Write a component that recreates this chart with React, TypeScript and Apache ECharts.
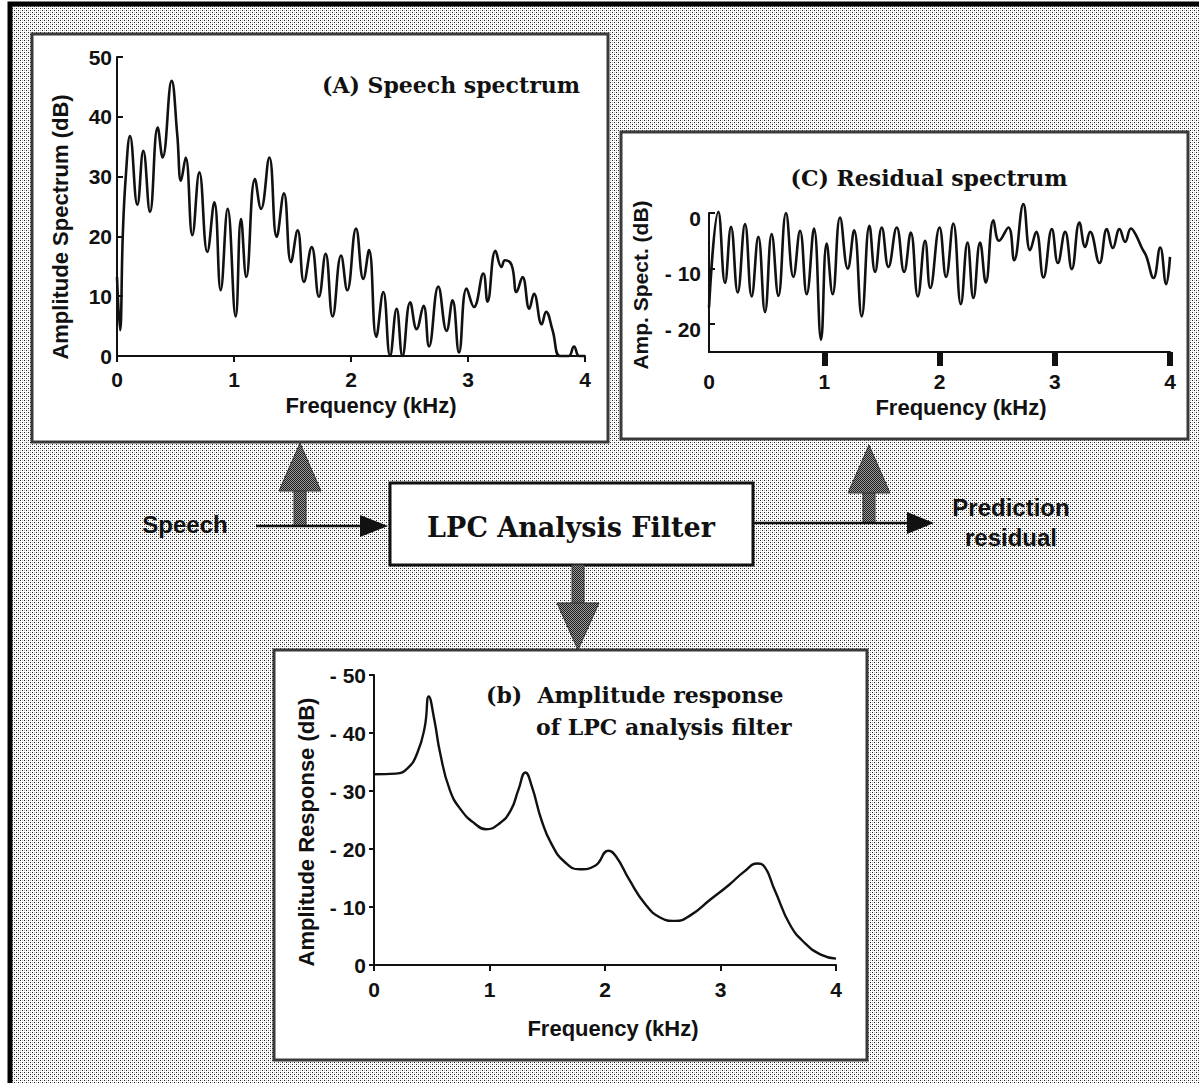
import React, { useEffect, useRef } from "react";
import * as echarts from "echarts";

// ---------- data ----------
const FREQ_TICKS = [0, 1, 2, 3, 4];

// (A) Speech spectrum: frequency (kHz) and amplitude (dB)
const A_FREQ = [0.0, 0.026, 0.05, 0.075, 0.111, 0.174, 0.225, 0.282, 0.348, 0.39, 0.467, 0.515, 0.547, 0.587, 0.644, 0.704, 0.772, 0.832, 0.886, 0.946, 1.014, 1.06, 1.105, 1.179, 1.231, 1.302, 1.365, 1.427, 1.487, 1.544, 1.598, 1.664, 1.726, 1.783, 1.843, 1.915, 1.968, 2.043, 2.105, 2.154, 2.216, 2.276, 2.334, 2.39, 2.44, 2.506, 2.561, 2.62, 2.667, 2.746, 2.817, 2.868, 2.923, 2.988, 3.051, 3.131, 3.167, 3.235, 3.286, 3.316, 3.373, 3.415, 3.466, 3.524, 3.564, 3.63, 3.667, 3.723, 3.786, 3.86, 3.906, 3.95, 4.0];
const A_DB = [13.2, 4.3, 20.5, 30, 36.8, 25.3, 34.3, 24.1, 38.2, 33.2, 46.0, 37, 29.3, 33.2, 20.2, 30.7, 17.4, 25.7, 11.0, 24.6, 6.6, 22.9, 13.2, 29.6, 24.6, 33.2, 19.9, 27.2, 15.7, 21.0, 12.4, 18.2, 9.9, 17.1, 6.6, 16.8, 11.0, 21.3, 12.9, 17.7, 3.2, 10.7, 0, 7.9, 0, 9.0, 4.5, 8.4, 1.6, 11.6, 4.2, 9.3, 0.6, 11.3, 8.2, 13.8, 9.1, 17.6, 14.9, 16.0, 15.2, 10.7, 13.2, 7.9, 10.4, 5.3, 7.4, 4.3, 0, 0, 1.6, 0, 0];
const A_Y_TICKS = [0, 10, 20, 30, 40, 50];

// (C) Residual spectrum
const C_FREQ = [0, 0.081, 0.139, 0.191, 0.249, 0.3125, 0.37, 0.428, 0.486, 0.544, 0.602, 0.668, 0.732, 0.79, 0.848, 0.911, 0.972, 1.021, 1.073, 1.137, 1.204, 1.259, 1.325, 1.392, 1.441, 1.499, 1.557, 1.629, 1.693, 1.751, 1.812, 1.875, 1.92, 2.0, 2.057, 2.12, 2.185, 2.243, 2.294, 2.352, 2.402, 2.468, 2.517, 2.598, 2.648, 2.728, 2.786, 2.839, 2.902, 2.975, 3.027, 3.09, 3.148, 3.214, 3.264, 3.307, 3.388, 3.452, 3.504, 3.562, 3.611, 3.661, 3.698, 3.756, 3.793, 3.857, 3.915, 3.967, 4.0];
const C_DB = [-17, 0.2, -12.6, -2.5, -14.3, -2.0, -15.0, -4.3, -17.8, -3.8, -14.9, 0.0, -11.5, -3.2, -14.6, -2.8, -22.8, -5.5, -14.6, -0.8, -10.0, -3.1, -18.6, -2.3, -10.6, -2.6, -9.7, -2.6, -10.6, -3.5, -15.0, -5.0, -13.5, -2.6, -11.5, -1.9, -16.4, -5.3, -15.3, -5.3, -12.5, -1.3, -5.0, -2.6, -8.5, 1.6, -6.7, -3.4, -11.6, -2.9, -9.0, -3.4, -10.1, -1.7, -6.1, -3.4, -9.0, -2.9, -6.3, -2.9, -5.2, -2.8, -3.7, -6.3, -7.7, -11.7, -6.2, -12.8, -7.9];
const C_Y_TICKS = [-20, -10, 0];

// (b) Amplitude response of LPC analysis filter (magnitude shown as "- dB")
const B_FREQ = [0, 0.19, 0.29, 0.374, 0.44, 0.474, 0.523, 0.573, 0.656, 0.755, 0.871, 0.97, 1.086, 1.185, 1.25, 1.311, 1.368, 1.45, 1.533, 1.649, 1.781, 1.914, 2.03, 2.096, 2.21, 2.344, 2.477, 2.609, 2.742, 2.907, 3.073, 3.205, 3.321, 3.37, 3.47, 3.603, 3.735, 3.868, 4.0];
const B_DB = [32.9, 33.0, 33.9, 36.5, 41.1, 46.3, 42.2, 36.5, 30.2, 26.7, 24.4, 23.4, 24.4, 26.7, 30.2, 33.2, 30.7, 25.0, 21.0, 17.8, 16.5, 17.1, 19.7, 18.7, 14.7, 10.6, 8.2, 7.6, 8.6, 11.2, 13.8, 16.1, 17.5, 17.2, 12.9, 6.9, 3.7, 1.8, 1.1];
const B_Y_TICKS = [0, 10, 20, 30, 40, 50];

// ---------- helpers ----------
const SANS = '"Liberation Sans", Arial, Helvetica, sans-serif';
const SERIF = '"DejaVu Serif", "Liberation Serif", serif';
const INK = "#111";

function zip(xs: number[], ys: number[]) {
  return xs.map((x, i) => [x, ys[i]]);
}

function makeTile(size: number, dots: [number, number, string][], bg: string) {
  const c = document.createElement("canvas");
  c.width = size;
  c.height = size;
  const ctx = c.getContext("2d")!;
  ctx.fillStyle = bg;
  ctx.fillRect(0, 0, size, size);
  dots.forEach(([x, y, col]) => {
    ctx.fillStyle = col;
    ctx.fillRect(x, y, 1, 1);
  });
  return c;
}

function text(x: number, y: number, t: string, font: string, opts: any = {}) {
  return {
    type: "text",
    x,
    y,
    rotation: opts.rotation || 0,
    z: 100,
    style: {
      text: t,
      font,
      fill: INK,
      align: opts.align || "center",
      textAlign: opts.align || "center",
      verticalAlign: "middle",
      textVerticalAlign: "middle",
    },
  };
}

function box(x1: number, y1: number, x2: number, y2: number, stroke = "#3a3a3a", lw = 3) {
  return {
    type: "rect",
    z: -50,
    shape: { x: x1, y: y1, width: x2 - x1, height: y2 - y1 },
    style: { fill: "#fff", stroke, lineWidth: lw },
  };
}

export default function App() {
  const ref = useRef<HTMLDivElement>(null);

  useEffect(() => {
    const chart = echarts.init(ref.current!, null, { renderer: "svg" });

    const bgTile = makeTile(4, [[0, 0, "#222222"], [2, 2, "#222222"], [2, 0, "#b8b8b8"], [0, 2, "#b8b8b8"]], "#ffffff");
    const arrowTile = makeTile(2, [[0, 0, "#1e1e1e"], [1, 1, "#1e1e1e"]], "#9a9a9a");
    const bgFill: any = { image: bgTile, repeat: "repeat" };
    const arrowFill: any = { image: arrowTile, repeat: "repeat" };

    const tickFont = { fontFamily: SANS, fontSize: 21, fontWeight: "bold", color: INK };
    const axisLine = { show: true, onZero: false, lineStyle: { color: INK, width: 2 } };
    const tickStyle = { color: INK, width: 2 };

    const upArrow = (cx: number, tipY: number, baseY: number) => [
      { type: "rect", z: -40, shape: { x: cx - 6, y: tipY + 45, width: 12, height: baseY - tipY - 45 }, style: { fill: arrowFill, stroke: "#333", lineWidth: 1 } },
      { type: "polygon", z: -40, shape: { points: [[cx - 21, tipY + 48], [cx + 21, tipY + 48], [cx, tipY]] }, style: { fill: arrowFill, stroke: "#333", lineWidth: 1 } },
    ];

    const option: any = {
      animation: false,
      backgroundColor: "#ffffff",
      grid: [
        { left: 117, top: 57, width: 468, height: 299 },
        { left: 709, top: 213, width: 461, height: 139 },
        { left: 374, top: 675, width: 462, height: 290 },
      ],
      xAxis: [
        {
          gridIndex: 0, type: "value", min: 0, max: 4, interval: 1,
          axisLine, axisTick: { show: true, inside: false, length: 6, lineStyle: tickStyle },
          axisLabel: { ...tickFont, margin: 13, customValues: FREQ_TICKS }, splitLine: { show: false },
        },
        {
          gridIndex: 1, type: "value", min: 0, max: 4, interval: 1,
          axisLine, axisTick: { show: true, inside: false, length: 14, customValues: [1, 2, 3, 4], lineStyle: { color: INK, width: 6 } },
          axisLabel: { ...tickFont, margin: 19, customValues: FREQ_TICKS }, splitLine: { show: false },
        },
        {
          gridIndex: 2, type: "value", min: 0, max: 4, interval: 1,
          axisLine, axisTick: { show: true, inside: false, length: 6, lineStyle: tickStyle },
          axisLabel: { ...tickFont, margin: 14, customValues: FREQ_TICKS }, splitLine: { show: false },
        },
      ],
      yAxis: [
        {
          gridIndex: 0, type: "value", min: 0, max: 50, interval: 10,
          axisLine, axisTick: { show: true, inside: true, length: 6, lineStyle: tickStyle },
          axisLabel: { ...tickFont, margin: 5, customValues: A_Y_TICKS }, splitLine: { show: false },
        },
        {
          gridIndex: 1, type: "value", min: -25, max: 0,
          axisLine, axisTick: { show: true, inside: true, length: 6, customValues: C_Y_TICKS, lineStyle: tickStyle },
          axisLabel: {
            ...tickFont, margin: 8, customValues: C_Y_TICKS, verticalAlign: "top", lineHeight: 10,
            formatter: (v: number) => (v === 0 ? "0" : "- " + Math.abs(v)),
          },
          splitLine: { show: false },
        },
        {
          gridIndex: 2, type: "value", min: 0, max: 50, interval: 10,
          axisLine, axisTick: { show: true, inside: false, length: 5, lineStyle: tickStyle },
          axisLabel: {
            ...tickFont, margin: 8, customValues: B_Y_TICKS,
            formatter: (v: number) => (v === 0 ? "0" : "- " + v),
          },
          splitLine: { show: false },
        },
      ],
      series: [
        {
          type: "line", xAxisIndex: 0, yAxisIndex: 0, data: zip(A_FREQ, A_DB),
          smooth: 0.45, showSymbol: false, symbol: "none", lineStyle: { color: INK, width: 2.6 }, clip: false,
        },
        {
          type: "line", xAxisIndex: 1, yAxisIndex: 1, data: zip(C_FREQ, C_DB),
          smooth: 0.45, showSymbol: false, symbol: "none", lineStyle: { color: INK, width: 2.6 }, clip: false,
        },
        {
          type: "line", xAxisIndex: 2, yAxisIndex: 2, data: zip(B_FREQ, B_DB),
          smooth: 0.5, showSymbol: false, symbol: "none", lineStyle: { color: INK, width: 2.4 }, clip: false,
        },
      ],
      graphic: {
        elements: [
          // stippled page background with black frame
          { type: "rect", z: -100, shape: { x: 10, y: 4, width: 1220, height: 1120 }, style: { fill: bgFill, stroke: "#000", lineWidth: 5 } },
          // panel boxes
          box(32, 34, 608, 442),
          box(621, 132, 1188, 439),
          box(274, 650, 867, 1060),
          // LPC filter block
          { type: "rect", z: -40, shape: { x: 390, y: 483, width: 363, height: 82 }, style: { fill: "#fff", stroke: INK, lineWidth: 3 } },
          // signal lines
          { type: "line", z: -30, shape: { x1: 256, y1: 526, x2: 362, y2: 526 }, style: { stroke: INK, lineWidth: 2.5 } },
          { type: "polygon", z: -30, shape: { points: [[360, 515], [360, 537], [388, 526]] }, style: { fill: INK } },
          { type: "line", z: -30, shape: { x1: 753, y1: 523, x2: 910, y2: 523 }, style: { stroke: INK, lineWidth: 2.5 } },
          { type: "polygon", z: -30, shape: { points: [[907, 512], [907, 534], [934, 523]] }, style: { fill: INK } },
          // grey arrows
          ...upArrow(300, 443, 526),
          ...upArrow(869, 445, 523),
          { type: "rect", z: -40, shape: { x: 572, y: 565, width: 12, height: 40 }, style: { fill: arrowFill, stroke: "#333", lineWidth: 1 } },
          { type: "polygon", z: -40, shape: { points: [[557, 603], [599, 603], [578, 650]] }, style: { fill: arrowFill, stroke: "#333", lineWidth: 1 } },
          // titles
          text(451, 85, "(A) Speech spectrum", `bold 22px ${SERIF}`),
          text(929, 178, "(C) Residual spectrum", `bold 22px ${SERIF}`),
          text(486, 695, "(b)  Amplitude response", `bold 22px ${SERIF}`, { align: "left" }),
          text(536, 727, "of LPC analysis filter", `bold 22px ${SERIF}`, { align: "left" }),
          text(571, 527, "LPC Analysis Filter", `bold 27px ${SERIF}`),
          // axis titles
          text(60, 227, "Amplitude Spectrum (dB)", `bold 22px ${SANS}`, { rotation: Math.PI / 2 }),
          text(371, 405, "Frequency (kHz)", `bold 22px ${SANS}`),
          text(640, 285, "Amp. Spect. (dB)", `bold 21px ${SANS}`, { rotation: Math.PI / 2 }),
          text(961, 407, "Frequency (kHz)", `bold 22px ${SANS}`),
          text(306, 832, "Amplitude Response (dB)", `bold 22px ${SANS}`, { rotation: Math.PI / 2 }),
          text(613, 1028, "Frequency (kHz)", `bold 22px ${SANS}`),
          // block diagram labels
          text(185, 524, "Speech", `bold 24px ${SANS}`),
          text(1011, 507, "Prediction", `bold 24px ${SANS}`),
          text(1011, 537, "residual", `bold 24px ${SANS}`),
        ],
      },
    };

    chart.setOption(option);
    return () => chart.dispose();
  }, []);

  return (
    <div
      ref={ref}
      style={{ position: "fixed", left: 0, top: 0, width: 1199, height: 1083 }}
    />
  );
}
